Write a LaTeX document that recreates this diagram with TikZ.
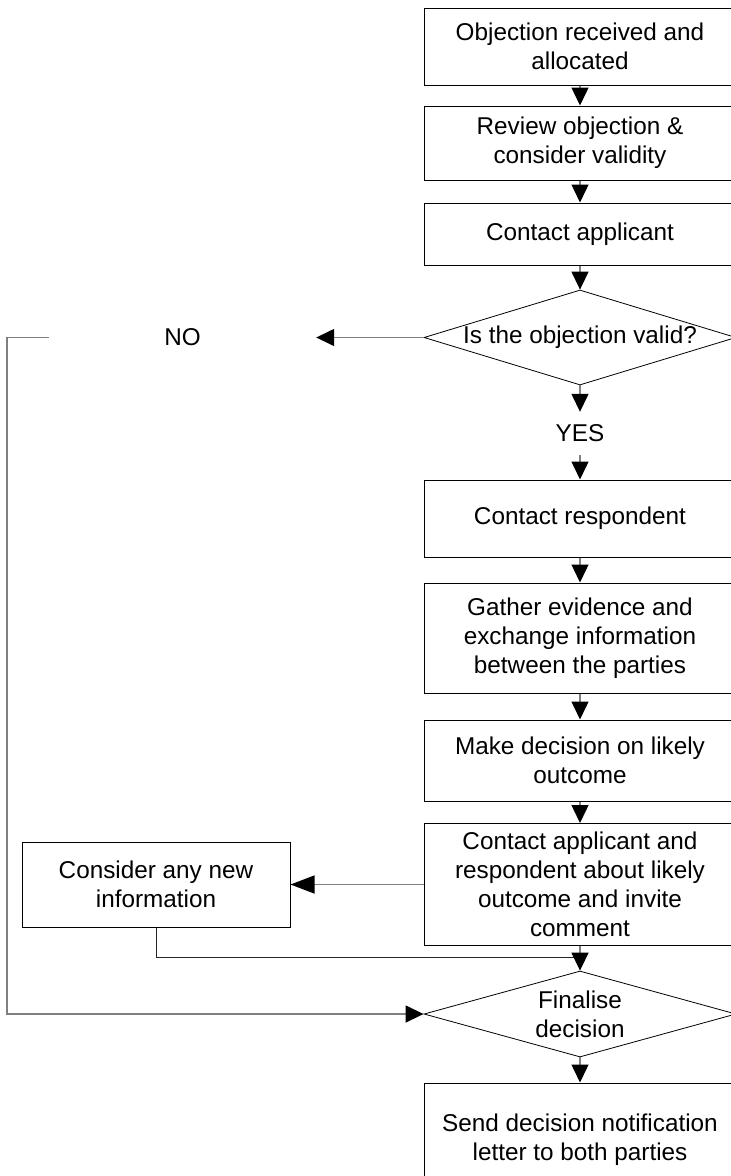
\documentclass[tikz,border=0pt]{standalone}
\usepackage{fontspec}
\setmainfont{Liberation Sans}
\usetikzlibrary{arrows.meta,shapes.geometric}
\begin{document}
\begin{tikzpicture}[x=1pt,y=-1pt,
  txt/.style={font=\fontsize{24.3}{29}\selectfont, align=center},
  box/.style={draw=black, line width=1pt, rectangle, inner sep=0pt, align=center,
    font=\fontsize{24.3}{29}\selectfont},
  dia/.style={draw=black, line width=0.8pt, diamond, inner sep=0pt},
  conn/.style={draw=gray, line width=1.4pt, -{Triangle[length=18pt,width=17pt,color=black]}},
  bigtip/.style={-{Triangle[length=24pt,width=18pt,color=black]}},
  dark/.style={draw=black!85, line width=1pt}
]
\useasboundingbox (0,0) rectangle (731,1176);
\fill[white] (0,0) rectangle (731,1176);

\node[box, minimum width=312pt, minimum height=77pt] (b1) at (580,46.5) {Objection received and\\allocated};
\node[box, minimum width=312pt, minimum height=74pt] (b2) at (580,143) {Review objection \&\\consider validity};
\node[box, minimum width=312pt, minimum height=62pt] (b3) at (580,234) {Contact applicant};
\node[dia, minimum width=312pt, minimum height=95pt] (d1) at (580,337.5) {};
\node[txt] (d1t) at (d1.center) {Is the objection valid?};
\node[txt, minimum width=267pt, inner sep=0pt] (no) at (182.5,337.5) {NO};
\node[txt, minimum height=43pt, inner sep=0pt] (yes) at (580,433.5) {YES};
\node[box, minimum width=312pt, minimum height=77pt] (b4) at (580,518.5) {Contact respondent};
\node[box, minimum width=312pt, minimum height=110pt] (b5) at (580,638) {Gather evidence and\\exchange information\\between the parties};
\node[box, minimum width=312pt, minimum height=81pt] (b6) at (580,760.5) {Make decision on likely\\outcome};
\node[box, minimum width=312pt, minimum height=122pt] (b7) at (580,884.5) {Contact applicant and\\respondent about likely\\outcome and invite\\comment};
\node[box, minimum width=268pt, minimum height=85pt] (cons) at (156,884.5) {Consider any new\\information};
\node[dia, minimum width=312pt, minimum height=86pt] (fin) at (580,1014) {};
\node[txt] (fint) at (fin.center) {Finalise\\decision};
\node[box, minimum width=312pt, minimum height=114pt] (b8) at (580,1140) {Send decision notification\\letter to both parties};

\coordinate (lc) at (7,600);
\coordinate (join) at (580,957);

\draw[conn] (b1.south) -- (b2.north);
\draw[conn] (b2.south) -- (b3.north);
\draw[conn] (b3.south) -- (d1.north);
\draw[conn] (d1.south) -- (yes.north);
\draw[conn] (yes.south) -- (b4.north);
\draw[conn] (d1.west) -- (no.east);
\draw[conn] (no.west) -| (lc) |- (fin.west);
\draw[conn] (b4.south) -- (b5.north);
\draw[conn] (b5.south) -- (b6.north);
\draw[conn] (b6.south) -- (b7.north);
\draw[conn, bigtip] (b7.west) -- (cons.east);
\draw[dark] (cons.south) |- (join);
\draw[conn] (b7.south) -- (fin.north);
\draw[conn] (fin.south) -- (b8.north);
\end{tikzpicture}
\end{document}
